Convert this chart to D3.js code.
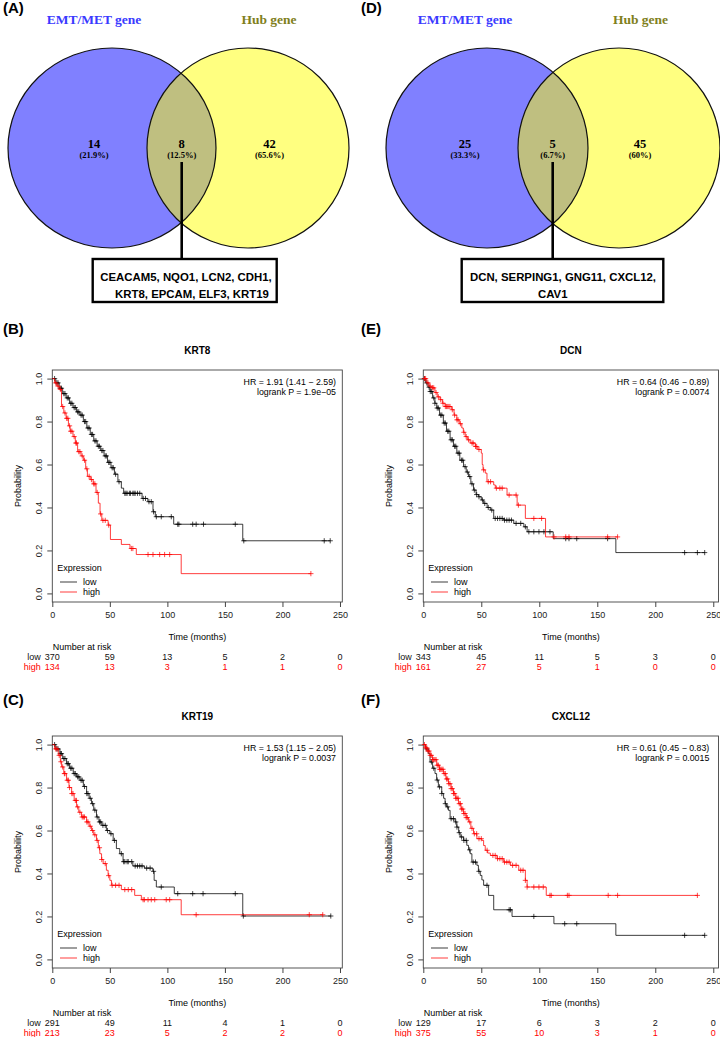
<!DOCTYPE html>
<html>
<head>
<meta charset="utf-8">
<script src="https://cdn.jsdelivr.net/npm/d3@7"></script>
<style>
  body { margin: 0; background: #fff; }
  svg text { font-family: "Liberation Sans", Arial, sans-serif; }
</style>
</head>
<body>
<div id="fig"></div>
<script>
// ---- shared axis values ----
const xTicks = [0, 50, 100, 150, 200, 250];
const yTicks = [0, 0.2, 0.4, 0.6, 0.8, 1.0];
const riskTimes = [0, 50, 100, 150, 200, 250];
const groupNames = ["low", "high"];

// ---- Venn diagrams ----
const vennSets = ["EMT/MET gene", "Hub gene"];
const vennCountsA = [14, 8, 42];
const vennPctA = ["(21.9%)", "(12.5%)", "(65.6%)"];
const overlapGenesA = ["CEACAM5, NQO1, LCN2, CDH1,", "KRT8, EPCAM, ELF3, KRT19"];
const vennCountsD = [25, 5, 45];
const vennPctD = ["(33.3%)", "(6.7%)", "(60%)"];
const overlapGenesD = ["DCN, SERPING1, GNG11, CXCL12,", "CAV1"];

// ---- Kaplan-Meier: KRT8 ----
const krt8Low = [[0,1],[3,0.98],[6,0.955],[9,0.93],[12,0.91],[15,0.885],[18,0.865],[21,0.845],[24,0.83],[27,0.8],[30,0.77],[33,0.74],[36,0.71],[39,0.685],[42,0.665],[45,0.64],[48,0.61],[51,0.585],[54,0.555],[57,0.52],[60,0.49],[62,0.466],[78,0.442],[83,0.427],[87.5,0.38],[89.5,0.357],[105.5,0.322],[165.5,0.245]];
const krt8LowCens = [2,4,5,7,8,10,11,13,14,16,17,19,20,22,23,25,26,28,29,31,32,34,35,37,38,40,41,43,44,46,47,49,50,52,53,55,58,63,64,65,67,68,70,71,72,74,76,79,81,84,86,88,90.4,94.7,103.4,109,110,122,125,131.4,159,166.4,236.3,241.5];
const krt8High = [[0,1],[2,0.98],[4,0.965],[6,0.95],[8,0.87],[10,0.84],[12,0.815],[14,0.78],[15.5,0.755],[18,0.73],[20,0.7],[22,0.66],[25,0.64],[27,0.62],[29,0.58],[30.5,0.545],[33,0.53],[35.5,0.51],[38,0.47],[40,0.42],[41.5,0.37],[43,0.34],[48.5,0.318],[50.5,0.251],[60,0.228],[67.5,0.209],[73,0.181],[112,0.092]];
const krt8HighCens = [3,5,7,9,11,12.5,13.5,15,16,17,19,20.5,21,23,24,26,28,30,32,34,36,37,39,42,44,46,49,68.7,70,83.2,87.5,93.3,97.6,102,224.7];
const krt8RiskLow = [370, 59, 13, 5, 2, 0];
const krt8RiskHigh = [134, 13, 3, 1, 1, 0];
const krt8Stats = ["HR = 1.91 (1.41 \u2212 2.59)", "logrank P = 1.9e\u221205"];

// ---- Kaplan-Meier: KRT19 ----
const krt19Low = [[0,1],[3,0.98],[6.6,0.958],[9,0.935],[12.4,0.911],[15,0.89],[18.2,0.865],[21,0.85],[24,0.834],[27,0.805],[29.8,0.772],[32,0.75],[34.1,0.725],[36,0.695],[38.4,0.663],[40.5,0.64],[43,0.624],[47,0.6],[50,0.585],[52.9,0.554],[55.7,0.516],[58.6,0.492],[61.5,0.455],[70,0.435],[80,0.425],[87.4,0.41],[88.5,0.368],[90.4,0.337],[106,0.306],[165.5,0.202]];
const krt19LowCens = [2,4,5,7,8,10,11,13,14,16,17,19,20,22,23,25,26,28,30,31,33,35,37,39,41,42,44,46,48,51,54,60,62,63,65,66,69,72,74,76,78,82,85,88,94.7,109,122,131,159,166,242];
const krt19High = [[0,1],[2,0.98],[5.2,0.95],[7,0.92],[8.1,0.896],[10,0.865],[12.4,0.834],[14.5,0.8],[16.8,0.772],[19,0.74],[21.1,0.71],[23,0.685],[25.4,0.663],[29.8,0.64],[32,0.62],[34.1,0.6],[36,0.58],[38.4,0.554],[40,0.52],[41.3,0.492],[42.8,0.465],[44.2,0.446],[47,0.415],[48.5,0.39],[50,0.368],[51.4,0.345],[60,0.325],[71.6,0.298],[77.4,0.278],[112,0.208]];
const krt19HighCens = [3,4,6,7.5,9,10.5,11,13,14,15,17,18,20,21,22,24,26,27,28,30,31,33,35,37,39,41,43,46,49,52,55,58,63,66,69,78.9,80,83.2,86,89,99,102,125,223.3,235];
const krt19RiskLow = [291, 49, 11, 4, 1, 0];
const krt19RiskHigh = [213, 23, 5, 2, 2, 0];
const krt19Stats = ["HR = 1.53 (1.15 \u2212 2.05)", "logrank P = 0.0037"];

// ---- Kaplan-Meier: DCN ----
const dcnLow = [[0,1],[2,0.98],[4,0.96],[5.8,0.94],[8,0.91],[10,0.885],[11.6,0.863],[14,0.83],[17.3,0.793],[20,0.755],[23.1,0.715],[26,0.685],[28.9,0.653],[31.5,0.62],[34.7,0.59],[37,0.565],[39,0.544],[41,0.51],[43.3,0.481],[45.5,0.46],[47.7,0.45],[50,0.435],[52,0.419],[55,0.4],[57.8,0.388],[60.7,0.349],[69.3,0.341],[78,0.326],[86.7,0.31],[89.5,0.287],[112,0.255],[166,0.19]];
const dcnLowCens = [1,3,5,6,7,9,10,12,13,15,16,18,19,21,22,24,25,27,28,30,31,33,34,36,38,40,42,44,46,48,51,53,56,59,62,64,66,68,70,72,74,76,80,84,88,91,95.3,99.7,104,109.2,122.8,125.6,132.3,158.9,225.3,236.3,242.6];
const dcnHigh = [[0,1],[3,0.98],[5,0.965],[7.2,0.957],[10,0.935],[12,0.915],[14.4,0.902],[16.5,0.885],[18.8,0.87],[24.5,0.855],[26.5,0.83],[28.9,0.808],[31,0.79],[33.2,0.77],[34.5,0.75],[36.1,0.73],[38,0.715],[40.4,0.7],[44.8,0.684],[47,0.67],[50,0.653],[50.8,0.6],[51.5,0.575],[53.4,0.56],[54.9,0.52],[60.7,0.505],[62.1,0.49],[72.2,0.458],[80.9,0.411],[88,0.349],[105.4,0.263]];
const dcnHighCens = [1,2,4,6,8,9,11,13,15,17,19,20,21,22,23,25,27,29,30,32,35,37,39,42,43,45,46,48,52,56,58,63,66,68,74,80,82,95.3,102,112.7,122.8,125.6,158.9,167.5];
const dcnRiskLow = [343, 45, 11, 5, 3, 0];
const dcnRiskHigh = [161, 27, 5, 1, 0, 0];
const dcnStats = ["HR = 0.64 (0.46 \u2212 0.89)", "logrank P = 0.0074"];

// ---- Kaplan-Meier: CXCL12 ----
const cxcl12Low = [[0,1],[2,0.98],[4.3,0.958],[5.8,0.919],[8,0.89],[10.1,0.865],[11.5,0.835],[13,0.803],[15.9,0.772],[17.5,0.75],[18.8,0.725],[20,0.71],[21.7,0.694],[23.1,0.655],[27.4,0.64],[28.9,0.616],[30.5,0.59],[31.8,0.57],[34.7,0.554],[37.5,0.531],[39,0.51],[40.4,0.492],[41.9,0.453],[46.2,0.438],[47.5,0.41],[49.1,0.391],[50.5,0.37],[52,0.345],[56.3,0.298],[60.7,0.231],[76.5,0.2],[112.6,0.166],[166,0.112]];
const cxcl12LowCens = [3,7,9,12,14,16,19,21,24,26,28,29,31,33,35,37,40,43,45,48,54.9,74,75.1,95.3,121.9,132.3,225.3,242.6];
const cxcl12High = [[0,1],[2,0.985],[3.5,0.97],[5.8,0.95],[8,0.93],[11.6,0.904],[14,0.885],[17.3,0.865],[19.5,0.84],[21.7,0.818],[24,0.795],[26,0.772],[28,0.75],[30.3,0.725],[32.5,0.7],[34.7,0.679],[37,0.66],[39,0.64],[41,0.61],[43.3,0.585],[46.2,0.562],[50.5,0.554],[52,0.53],[53.4,0.508],[55.5,0.495],[57.8,0.484],[63.5,0.469],[69.3,0.453],[75.1,0.438],[82.3,0.415],[88,0.368],[89.5,0.337],[106,0.298]];
const cxcl12HighCens = [1,2,3,4,5,6,7,8,9,10,11,12,13,14,15,16,17,18,19,20,21,22,23,24,25,26,27,28,29,30,31,32,33,34,35,36,37,38,40,42,44,46,48,50,55,60,62,64,66,68,70,72,74,77,80,84,86,88,89.5,95.3,99.7,103.4,109.2,110.3,124.2,125.6,159.4,167.5,236.3];
const cxcl12RiskLow = [129, 17, 6, 3, 2, 0];
const cxcl12RiskHigh = [375, 55, 10, 3, 1, 0];
const cxcl12Stats = ["HR = 0.61 (0.45 \u2212 0.83)", "logrank P = 0.0015"];

const W = 720, H = 1037;
const svg = d3.select("#fig").append("svg")
    .attr("width", W).attr("height", H);

const serif = "'Liberation Serif', 'Times New Roman', serif";
const colLow = "#000000", colHigh = "#ff0000";

// panel letters
const panelLetters = [
    {t: "(A)", x: 3, y: 13}, {t: "(D)", x: 361, y: 13},
    {t: "(B)", x: 3, y: 334}, {t: "(E)", x: 361, y: 334},
    {t: "(C)", x: 3, y: 705}, {t: "(F)", x: 361, y: 705}
];
svg.selectAll(".plab").data(panelLetters).enter().append("text")
    .attr("x", d => d.x).attr("y", d => d.y)
    .style("font-size", "15px").style("font-weight", "bold")
    .text(d => d.t);

// ---------- Venn ----------
function drawVenn(cfg) {
    const g = svg.append("g");
    const L = cfg.left, R = cfg.right;
    const clipId = "clip" + cfg.id;
    g.append("clipPath").attr("id", clipId)
        .append("ellipse").attr("cx", L.cx).attr("cy", L.cy).attr("rx", L.rx).attr("ry", L.ry);

    g.append("ellipse").attr("cx", L.cx).attr("cy", L.cy).attr("rx", L.rx).attr("ry", L.ry)
        .attr("fill", "#8080ff");
    g.append("ellipse").attr("cx", R.cx).attr("cy", R.cy).attr("rx", R.rx).attr("ry", R.ry)
        .attr("fill", "#ffff80");
    g.append("ellipse").attr("cx", R.cx).attr("cy", R.cy).attr("rx", R.rx).attr("ry", R.ry)
        .attr("fill", "#bfbf80").attr("clip-path", `url(#${clipId})`);
    [L, R].forEach(c => {
        g.append("ellipse").attr("cx", c.cx).attr("cy", c.cy).attr("rx", c.rx).attr("ry", c.ry)
            .attr("fill", "none").attr("stroke", "#111").attr("stroke-width", 1.2);
    });

    // set titles
    const titleCols = ["#3a3aff", "#80801c"];
    vennSets.forEach((s, i) => {
        g.append("text")
            .attr("x", cfg.titleX[i]).attr("y", 24)
            .attr("text-anchor", "middle")
            .style("font-family", serif).style("font-weight", "bold").style("font-size", "13.5px")
            .attr("fill", titleCols[i])
            .text(s);
    });

    // region counts
    cfg.counts.forEach((c, i) => {
        g.append("text").attr("x", cfg.labelX[i]).attr("y", 147.5)
            .attr("text-anchor", "middle")
            .style("font-family", serif).style("font-weight", "bold").style("font-size", "12.5px")
            .text(c);
        g.append("text").attr("x", cfg.labelX[i]).attr("y", 157.5)
            .attr("text-anchor", "middle")
            .style("font-family", serif).style("font-weight", "bold").style("font-size", "8.5px")
            .text(cfg.pct[i]);
    });

    // connector + gene box
    const lx = cfg.labelX[1];
    g.append("line").attr("x1", lx).attr("x2", lx).attr("y1", 162).attr("y2", 259)
        .attr("stroke", "#000").attr("stroke-width", 2.6);
    g.append("rect").attr("x", cfg.box[0]).attr("y", 259)
        .attr("width", cfg.box[1] - cfg.box[0]).attr("height", 43)
        .attr("fill", "#fff").attr("stroke", "#000").attr("stroke-width", 2.4);
    cfg.genes.forEach((line, i) => {
        g.append("text").attr("x", cfg.geneX[i]).attr("y", 281 + i * 16.5)
            .attr("text-anchor", "middle")
            .style("font-weight", "bold").style("font-size", "11.4px")
            .text(line);
    });
}

drawVenn({
    id: "A",
    left: {cx: 112, cy: 148, rx: 104, ry: 100},
    right: {cx: 248, cy: 148, rx: 101, ry: 100},
    titleX: [94, 269],
    labelX: [94, 181.7, 269.5],
    counts: vennCountsA, pct: vennPctA,
    box: [92.7, 276.7], genes: overlapGenesA, geneX: [186, 192]
});
drawVenn({
    id: "D",
    left: {cx: 487, cy: 148, rx: 101, ry: 100},
    right: {cx: 619, cy: 148, rx: 101, ry: 100},
    titleX: [465, 640.5],
    labelX: [465, 552.7, 640],
    counts: vennCountsD, pct: vennPctD,
    box: [461.7, 663.3], genes: overlapGenesD, geneX: [563, 552.7]
});

// ---------- Kaplan-Meier ----------
function survAt(steps, t) {
    let s = steps[0][1];
    for (const p of steps) { if (p[0] <= t) s = p[1]; else break; }
    return s;
}

function drawKM(cfg) {
    const g = svg.append("g");
    const x = d3.scaleLinear().domain([0, cfg.xmax]).range([cfg.x0, cfg.x1]);
    const y = d3.scaleLinear().domain([-0.04, 1.04]).range([cfg.y1, cfg.y0]);
    const fs = "9px";

    // title
    g.append("text").attr("x", (cfg.x0 + cfg.x1) / 2).attr("y", cfg.y0 - 16.5)
        .attr("text-anchor", "middle").style("font-weight", "bold").style("font-size", "10px")
        .text(cfg.title);

    // box
    g.append("rect").attr("x", cfg.x0).attr("y", cfg.y0)
        .attr("width", cfg.x1 - cfg.x0).attr("height", cfg.y1 - cfg.y0)
        .attr("fill", "none").attr("stroke", "#444").attr("stroke-width", 0.9);

    // x axis
    const xa = g.append("g").attr("transform", `translate(0,${cfg.y1})`)
        .call(d3.axisBottom(x).tickValues(xTicks).tickSize(5).tickPadding(5).tickFormat(d3.format("d")));
    xa.select(".domain").remove();
    xa.selectAll("line").attr("stroke", "#444");
    xa.selectAll("text").style("font-size", fs).attr("fill", "#222");

    // y axis, R-style rotated labels
    const ya = g.append("g").attr("transform", `translate(${cfg.x0},0)`)
        .call(d3.axisLeft(y).tickValues(yTicks).tickSize(5).tickFormat(d3.format(".1f")));
    ya.select(".domain").remove();
    ya.selectAll("line").attr("stroke", "#444");
    ya.selectAll("text")
        .attr("x", null).attr("dy", null)
        .attr("text-anchor", "middle")
        .attr("transform", "translate(-10.8,0) rotate(-90)")
        .style("font-size", fs).attr("fill", "#222");

    g.append("text")
        .attr("transform", `translate(${cfg.x0 - 31.8},${(cfg.y0 + cfg.y1) / 2}) rotate(-90)`)
        .attr("text-anchor", "middle").style("font-size", fs)
        .text("Probability");

    g.append("text").attr("x", (cfg.x0 + cfg.x1) / 2).attr("y", cfg.y1 + 38)
        .attr("text-anchor", "middle").style("font-size", fs)
        .text("Time (months)");

    // curves
    const line = d3.line().x(d => x(d[0])).y(d => y(d[1])).curve(d3.curveStepAfter);
    const series = [
        {steps: cfg.low, cens: cfg.lowCens, col: colLow},
        {steps: cfg.high, cens: cfg.highCens, col: colHigh}
    ];
    series.forEach(s => {
        const end = Math.max(s.steps[s.steps.length - 1][0], d3.max(s.cens));
        const pts = s.steps.concat([[end, s.steps[s.steps.length - 1][1]]]);
        g.append("path").attr("d", line(pts))
            .attr("fill", "none").attr("stroke", s.col).attr("stroke-width", 0.9)
            .attr("stroke-opacity", 0.85);
        g.selectAll(null).data(s.cens).enter().append("path")
            .attr("transform", t => `translate(${x(t)},${y(survAt(s.steps, t))})`)
            .attr("d", "M-2.6,0H2.6M0,-2.6V2.6")
            .attr("stroke", s.col).attr("stroke-width", 0.9).attr("stroke-opacity", 0.8);
    });

    // stats text
    cfg.stats.forEach((t, i) => {
        g.append("text").attr("x", cfg.x1 - cfg.statPad).attr("y", cfg.y0 + 15 + i * 10)
            .attr("text-anchor", "end").style("font-size", "8.8px").text(t);
    });

    // legend
    const lg = g.append("g").attr("transform", `translate(${cfg.x0},0)`);
    lg.append("text").attr("x", 5).attr("y", cfg.y1 - 31).style("font-size", fs).text("Expression");
    groupNames.forEach((n, i) => {
        const yy = cfg.y1 - 20 + i * 10;
        lg.append("line").attr("x1", 7.7).attr("x2", 24.7).attr("y1", yy).attr("y2", yy)
            .attr("stroke", i ? colHigh : colLow).attr("stroke-width", 0.9).attr("stroke-opacity", 0.85);
        lg.append("text").attr("x", 30.7).attr("y", yy + 3.2).style("font-size", fs).text(n);
    });

    // number at risk
    const ry = cfg.y1 + 48;
    g.append("text").attr("x", cfg.x0 + 0.5).attr("y", ry).style("font-size", fs).text("Number at risk");
    [cfg.riskLow, cfg.riskHigh].forEach((row, i) => {
        const yy = ry + 10 + i * 10;
        const col = i ? colHigh : "#111";
        g.append("text").attr("x", cfg.x0 - 11.6).attr("y", yy).attr("text-anchor", "end")
            .style("font-size", fs).attr("fill", col).text(groupNames[i]);
        g.selectAll(null).data(riskTimes).enter().append("text")
            .attr("x", t => x(t)).attr("y", yy).attr("text-anchor", "middle")
            .style("font-size", fs).attr("fill", col)
            .text((t, j) => row[j]);
    });
}

const leftPanel = {x0: 52.3, x1: 342.3, xmax: 252, statPad: 6.3};
const rightPanel = {x0: 423.3, x1: 718.5, xmax: 254.5, statPad: 9.2};
const topRow = {y0: 370, y1: 602};
const botRow = {y0: 736, y1: 968};

drawKM(Object.assign({title: "KRT8", low: krt8Low, lowCens: krt8LowCens, high: krt8High, highCens: krt8HighCens,
    riskLow: krt8RiskLow, riskHigh: krt8RiskHigh, stats: krt8Stats}, leftPanel, topRow));
drawKM(Object.assign({title: "KRT19", low: krt19Low, lowCens: krt19LowCens, high: krt19High, highCens: krt19HighCens,
    riskLow: krt19RiskLow, riskHigh: krt19RiskHigh, stats: krt19Stats}, leftPanel, botRow));
drawKM(Object.assign({title: "DCN", low: dcnLow, lowCens: dcnLowCens, high: dcnHigh, highCens: dcnHighCens,
    riskLow: dcnRiskLow, riskHigh: dcnRiskHigh, stats: dcnStats}, rightPanel, topRow));
drawKM(Object.assign({title: "CXCL12", low: cxcl12Low, lowCens: cxcl12LowCens, high: cxcl12High, highCens: cxcl12HighCens,
    riskLow: cxcl12RiskLow, riskHigh: cxcl12RiskHigh, stats: cxcl12Stats}, rightPanel, botRow));
</script>
</body>
</html>
